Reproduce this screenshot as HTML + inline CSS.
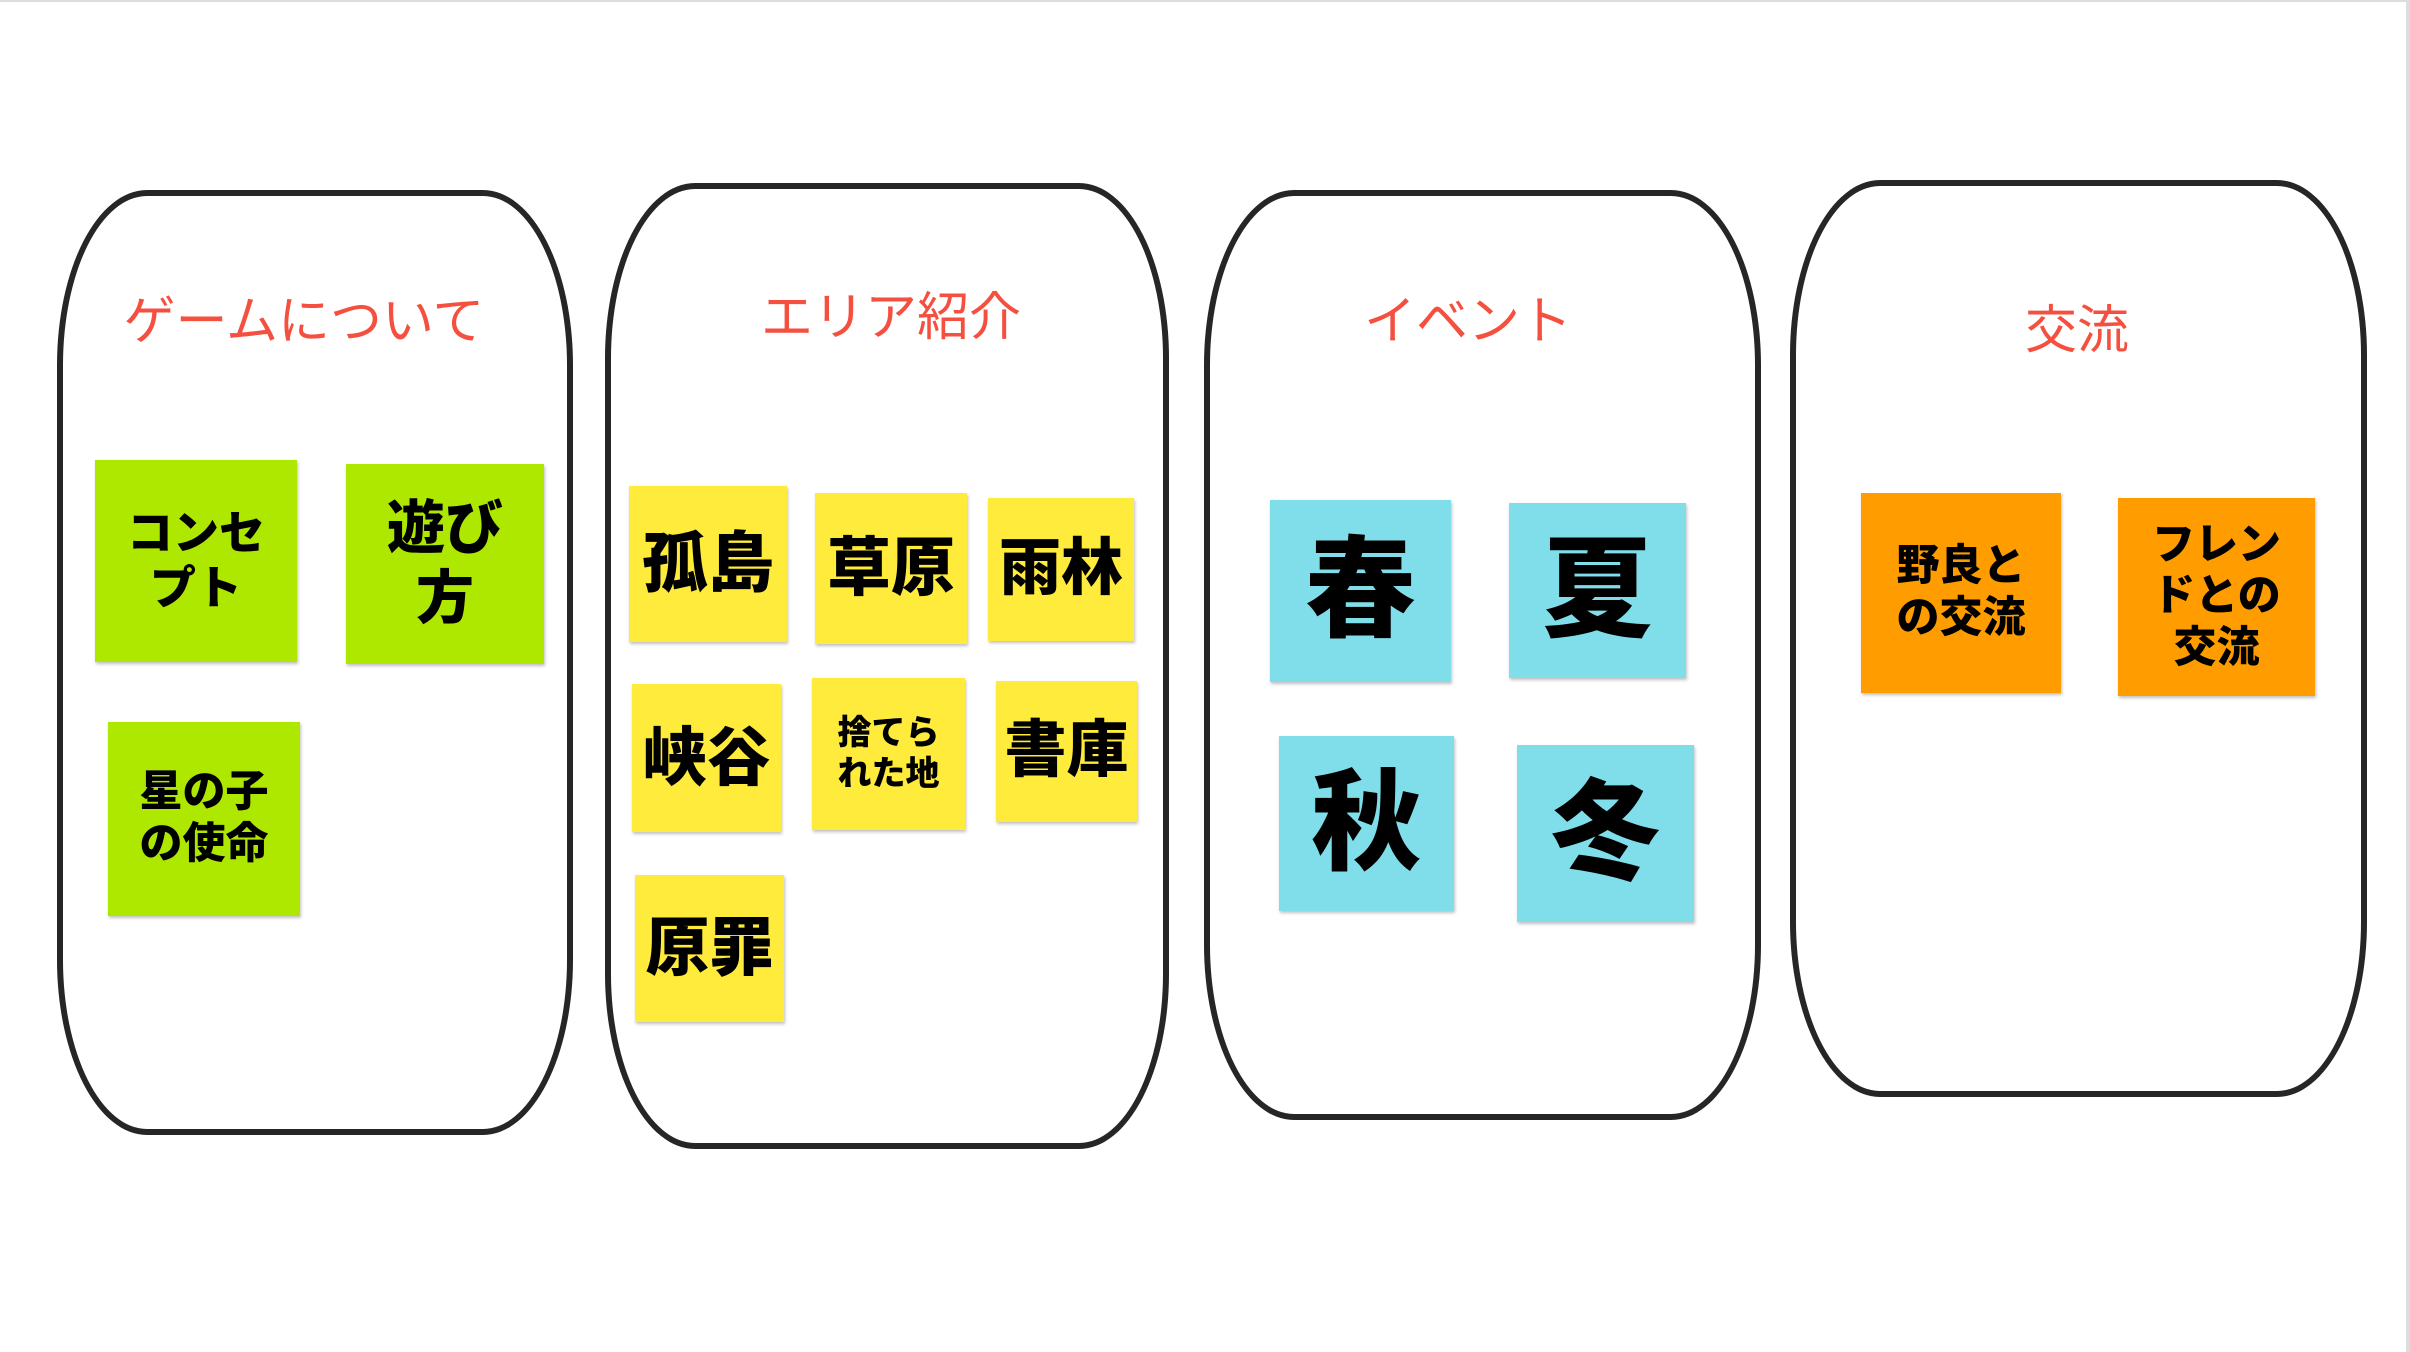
<!DOCTYPE html>
<html><head><meta charset="utf-8"><style>
html,body{margin:0;padding:0;}
body{width:2410px;height:1352px;background:#fff;position:relative;overflow:hidden;font-family:"Liberation Sans","Noto Sans CJK JP",sans-serif;}
.c{position:absolute;border:6px solid #262626;border-radius:90px/175px;box-sizing:border-box;}
.t{position:absolute;color:#f5503f;font-size:52px;transform:translateX(-50%);white-space:nowrap;line-height:1;}
.s{position:absolute;display:flex;align-items:center;justify-content:center;text-align:center;font-weight:900;color:#000;box-shadow:1px 2px 3px rgba(0,0,0,0.25);line-height:1.2;}
.g{background:#aee800}.y{background:#ffeb3b}.b{background:#80deea}.o{background:#ff9c00}
</style></head><body>
<div style="position:absolute;left:0;top:0;width:2410px;height:2px;background:#ddd"></div>
<div style="position:absolute;left:2406px;top:0;width:4px;height:1352px;background:#ddd"></div>

<div class="c" style="left:57px;top:190px;width:516px;height:945px"></div>
<div class="c" style="left:605px;top:183px;width:564px;height:966px"></div>
<div class="c" style="left:1204px;top:190px;width:557px;height:930px"></div>
<div class="c" style="left:1790px;top:180px;width:577px;height:917px"></div>

<div class="t" style="left:304px;top:296px">ゲームについて</div>
<div class="t" style="left:891px;top:292px">エリア紹介</div>
<div class="t" style="left:1468px;top:296px">イベント</div>
<div class="t" style="left:2077px;top:305px">交流</div>

<div class="s g" style="left:95px;top:460px;width:202px;height:202px;font-size:46px">コンセ<br>プト</div>
<div class="s g" style="left:346px;top:464px;width:198px;height:200px;font-size:58px">遊び<br>方</div>
<div class="s g" style="left:108px;top:722px;width:192px;height:194px;font-size:43px">星の子<br>の使命</div>

<div class="s y" style="left:629px;top:486px;width:158px;height:156px;font-size:66px">孤島</div>
<div class="s y" style="left:815px;top:493px;width:152px;height:151px;font-size:64px">草原</div>
<div class="s y" style="left:988px;top:498px;width:146px;height:143px;font-size:62px">雨林</div>
<div class="s y" style="left:632px;top:684px;width:149px;height:148px;font-size:64px">峡谷</div>
<div class="s y" style="left:812px;top:678px;width:153px;height:152px;font-size:34px">捨てら<br>れた地</div>
<div class="s y" style="left:996px;top:681px;width:141px;height:141px;font-size:62px">書庫</div>
<div class="s y" style="left:635px;top:875px;width:149px;height:147px;font-size:64px">原罪</div>

<div class="s b" style="left:1270px;top:500px;width:181px;height:182px;font-size:110px">春</div>
<div class="s b" style="left:1509px;top:503px;width:177px;height:175px;font-size:110px">夏</div>
<div class="s b" style="left:1279px;top:736px;width:175px;height:175px;font-size:110px">秋</div>
<div class="s b" style="left:1517px;top:745px;width:177px;height:177px;font-size:110px">冬</div>

<div class="s o" style="left:1861px;top:493px;width:200px;height:200px;font-size:43px">野良と<br>の交流</div>
<div class="s o" style="left:2118px;top:498px;width:197px;height:198px;font-size:43px">フレン<br>ドとの<br>交流</div>
</body></html>
